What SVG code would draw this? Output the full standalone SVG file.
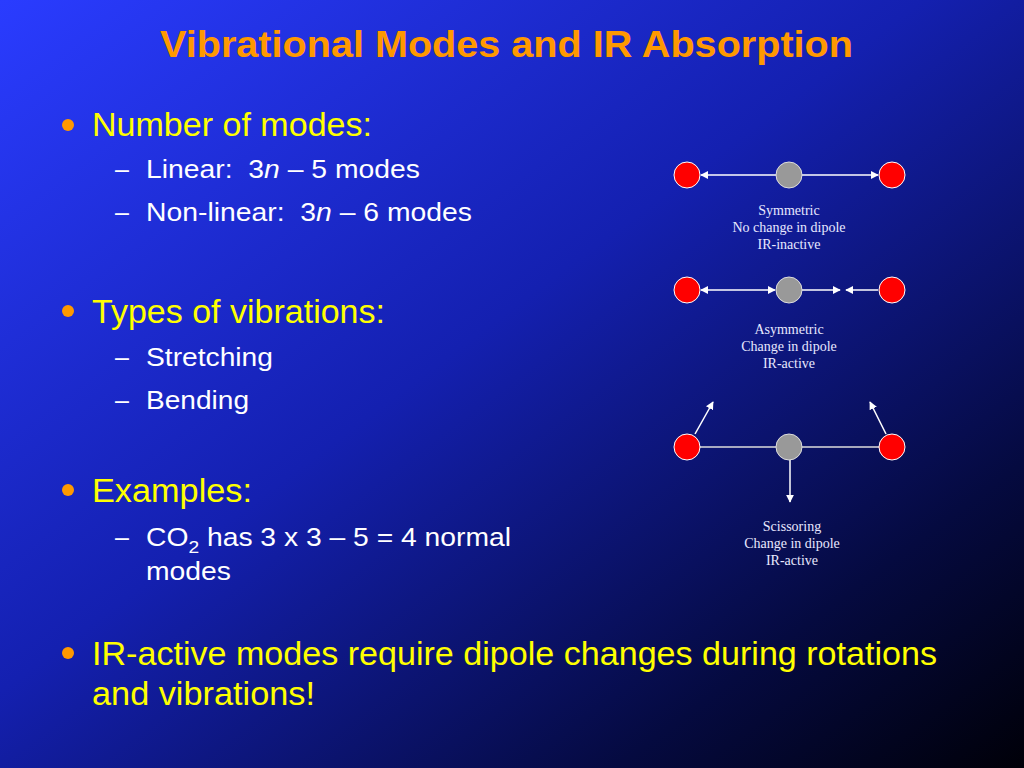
<svg xmlns="http://www.w3.org/2000/svg" width="1024" height="768" viewBox="0 0 1024 768">
<defs>
<linearGradient id="bg" x1="0" y1="0" x2="1" y2="1">
<stop offset="0" stop-color="#2a3cff"/><stop offset="0.45" stop-color="#1420b0"/><stop offset="0.8" stop-color="#050a40"/><stop offset="1" stop-color="#000008"/>
</linearGradient>
<marker id="ah" viewBox="0 0 10 10" refX="9" refY="5" markerWidth="8" markerHeight="8" markerUnits="userSpaceOnUse" orient="auto-start-reverse"><path d="M0,0 L10,5 L0,10 z" fill="#fff"/></marker>
<style>
.t{font-family:"Liberation Sans",Arial,sans-serif}
.b{fill:#ffff00;font-size:33px}
.s{fill:#ffffff;font-size:25px}
.c{font-family:"Liberation Serif",serif;font-size:14px;fill:#e8e8ff;text-anchor:middle}
.r{fill:#ff0000;stroke:#fff;stroke-width:1}
.g{fill:#999;stroke:#ddd;stroke-width:1}
.l{stroke:#ddd;stroke-width:1.5;fill:none}
.a{stroke:#fff;stroke-width:1.5;fill:none}
</style>
</defs>
<rect width="1024" height="768" fill="url(#bg)"/>
<text class="t" x="160" y="57" textLength="693" lengthAdjust="spacingAndGlyphs" font-size="37" font-weight="bold" fill="#ff9900">Vibrational Modes and IR Absorption</text>
<g fill="#ff9900"><circle cx="68" cy="125" r="6"/><circle cx="68" cy="311" r="6"/><circle cx="68" cy="490" r="6"/><circle cx="68" cy="653" r="6"/></g>
<text class="t b" x="92" y="136" textLength="280" lengthAdjust="spacingAndGlyphs">Number of modes:</text>
<text class="t s" x="115" y="178">–</text><text class="t s" x="146" y="178" textLength="274" lengthAdjust="spacingAndGlyphs" xml:space="preserve">Linear:  3<tspan font-style="italic">n</tspan> – 5 modes</text>
<text class="t s" x="115" y="221">–</text><text class="t s" x="146" y="221" textLength="326" lengthAdjust="spacingAndGlyphs" xml:space="preserve">Non-linear:  3<tspan font-style="italic">n</tspan> – 6 modes</text>
<text class="t b" x="92" y="323" textLength="293" lengthAdjust="spacingAndGlyphs">Types of vibrations:</text>
<text class="t s" x="115" y="366">–</text><text class="t s" x="146" y="366" textLength="127" lengthAdjust="spacingAndGlyphs">Stretching</text>
<text class="t s" x="115" y="409">–</text><text class="t s" x="146" y="409" textLength="103" lengthAdjust="spacingAndGlyphs">Bending</text>
<text class="t b" x="92" y="502" textLength="160" lengthAdjust="spacingAndGlyphs">Examples:</text>
<text class="t s" x="115" y="546">–</text><text class="t s" x="146" y="546" textLength="365" lengthAdjust="spacingAndGlyphs">CO<tspan style="font-size:17px" dy="7">2</tspan><tspan dy="-7"> has 3 x 3 – 5 = 4 normal</tspan></text>
<text class="t s" x="146" y="580" textLength="85" lengthAdjust="spacingAndGlyphs">modes</text>
<text class="t b" x="92" y="665" textLength="845" lengthAdjust="spacingAndGlyphs">IR-active modes require dipole changes during rotations</text>
<text class="t b" x="92" y="705" textLength="223" lengthAdjust="spacingAndGlyphs">and vibrations!</text>
<g id="connectors">
<line class="a" x1="776" y1="175" x2="701" y2="175" marker-end="url(#ah)"/>
<line class="a" x1="802" y1="175" x2="878" y2="175" marker-end="url(#ah)"/>
<line class="a" x1="701" y1="290" x2="775" y2="290" marker-start="url(#ah)" marker-end="url(#ah)"/>
<line class="a" x1="802" y1="290" x2="840" y2="290" marker-end="url(#ah)"/>
<line class="a" x1="878" y1="290" x2="846" y2="290" marker-end="url(#ah)"/>
<line class="l" x1="687" y1="447" x2="892" y2="447"/>
<line class="a" x1="695" y1="434" x2="713" y2="402" marker-end="url(#ah)"/>
<line class="a" x1="886" y1="434" x2="870" y2="402" marker-end="url(#ah)"/>
<line class="a" x1="790" y1="460" x2="790" y2="502" marker-end="url(#ah)"/>
</g>
<g id="n1"><circle class="r" cx="687" cy="175" r="13"/></g>
<g id="n2"><circle class="g" cx="789" cy="175" r="13"/></g>
<g id="n3"><circle class="r" cx="892" cy="175" r="13"/></g>
<g id="n4"><circle class="r" cx="687" cy="290" r="13"/></g>
<g id="n5"><circle class="g" cx="789" cy="290" r="13"/></g>
<g id="n6"><circle class="r" cx="892" cy="290" r="13"/></g>
<g id="n7"><circle class="r" cx="687" cy="447" r="13"/></g>
<g id="n8"><circle class="g" cx="789" cy="447" r="13"/></g>
<g id="n9"><circle class="r" cx="892" cy="447" r="13"/></g>
<text class="c" x="789" y="215">Symmetric</text>
<text class="c" x="789" y="232">No change in dipole</text>
<text class="c" x="789" y="249">IR-inactive</text>
<text class="c" x="789" y="334">Asymmetric</text>
<text class="c" x="789" y="351">Change in dipole</text>
<text class="c" x="789" y="368">IR-active</text>
<text class="c" x="792" y="531">Scissoring</text>
<text class="c" x="792" y="548">Change in dipole</text>
<text class="c" x="792" y="565">IR-active</text>
</svg>
